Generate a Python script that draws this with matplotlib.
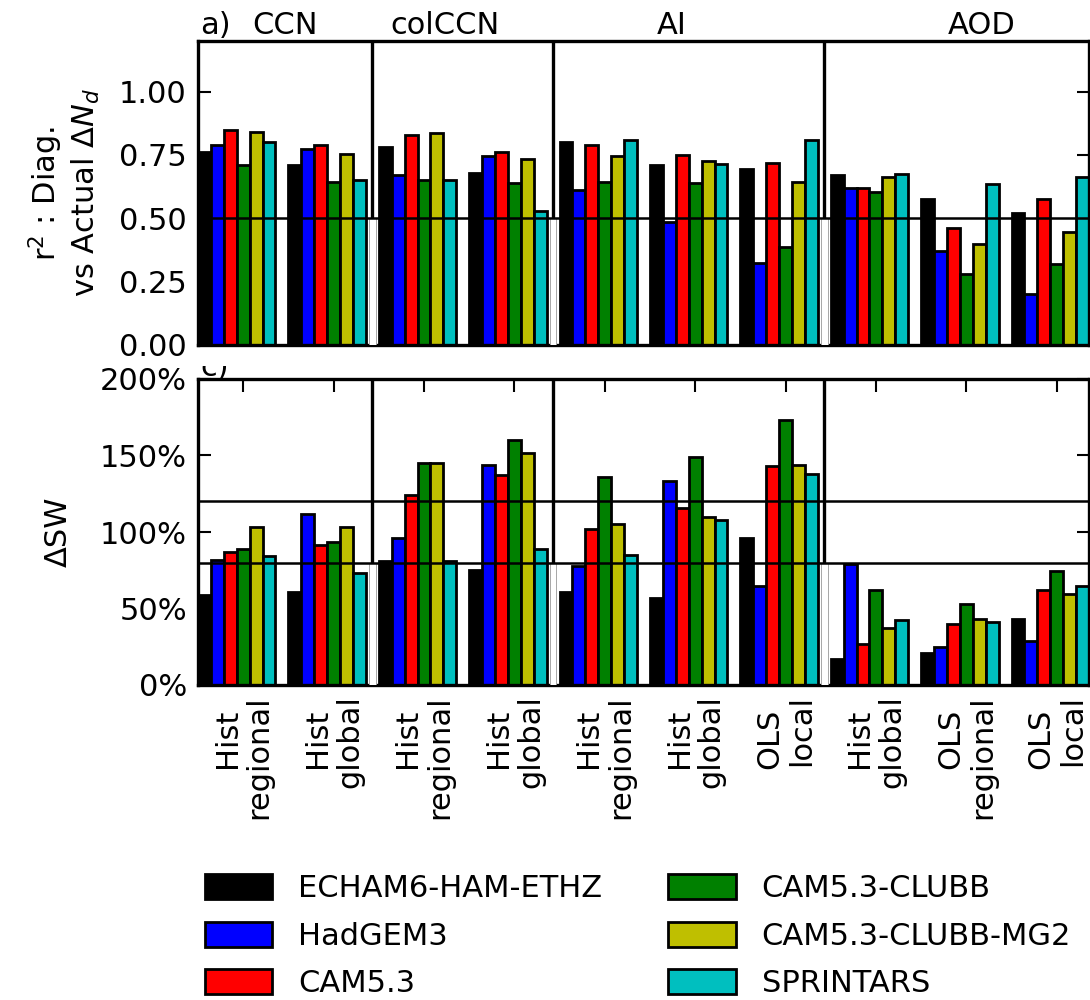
import matplotlib
matplotlib.use('Agg')
from matplotlib import pyplot as plt
from matplotlib import transforms
from matplotlib.patches import Patch
import numpy as np

models = ['ECHAM6-HAM-ETHZ', 'HadGEM3', 'CAM5.3',
          'CAM5.3-CLUBB', 'CAM5.3-CLUBB-MG2', 'SPRINTARS']
colors = ['k', 'b', 'r', 'g', 'y', 'c']

sections = ['CCN', 'colCCN', 'AI', 'AOD']
groups_per_section = [2, 2, 3, 3]
group_method = ['Hist', 'Hist', 'Hist', 'Hist', 'Hist', 'Hist', 'OLS',
                'Hist', 'OLS', 'OLS']
group_scale = ['regional', 'global', 'regional', 'global', 'regional',
               'global', 'local', 'global', 'regional', 'local']

# r^2 of diagnosed vs actual change in Nd, one value per group
r2_echam = [0.76, 0.71, 0.78, 0.68, 0.80, 0.71, 0.695, 0.67, 0.575, 0.52]
r2_hadgem = [0.79, 0.775, 0.67, 0.745, 0.61, 0.485, 0.325, 0.62, 0.37, 0.20]
r2_cam = [0.85, 0.79, 0.83, 0.76, 0.79, 0.75, 0.72, 0.62, 0.46, 0.575]
r2_clubb = [0.71, 0.645, 0.65, 0.64, 0.645, 0.64, 0.385, 0.605, 0.28, 0.32]
r2_mg2 = [0.84, 0.755, 0.835, 0.735, 0.745, 0.725, 0.645, 0.665, 0.40, 0.445]
r2_sprintars = [0.80, 0.65, 0.65, 0.53, 0.81, 0.715, 0.81, 0.675, 0.635, 0.665]

# diagnosed SW forcing as a fraction of the actual one
dsw_echam = [0.59, 0.61, 0.81, 0.75, 0.61, 0.57, 0.96, 0.17, 0.21, 0.43]
dsw_hadgem = [0.815, 1.12, 0.96, 1.44, 0.78, 1.335, 0.65, 0.79, 0.25, 0.29]
dsw_cam = [0.87, 0.915, 1.24, 1.375, 1.02, 1.155, 1.43, 0.27, 0.40, 0.62]
dsw_clubb = [0.89, 0.935, 1.45, 1.60, 1.36, 1.49, 1.73, 0.62, 0.53, 0.745]
dsw_mg2 = [1.03, 1.03, 1.45, 1.515, 1.055, 1.095, 1.44, 0.37, 0.43, 0.595]
dsw_sprintars = [0.84, 0.735, 0.81, 0.89, 0.85, 1.08, 1.38, 0.425, 0.41, 0.65]

r2_threshold = 0.5
dsw_band = [0.8, 1.2]

r2_all = [r2_echam, r2_hadgem, r2_cam, r2_clubb, r2_mg2, r2_sprintars]
dsw_all = [dsw_echam, dsw_hadgem, dsw_cam, dsw_clubb, dsw_mg2, dsw_sprintars]

FS = 22
n_groups = len(group_method)
slot = 7  # six models plus one empty slot per group
base = np.arange(n_groups) * slot
ticks = base + 3
# section separators sit in the empty slot of each section's last group
last_group = np.cumsum(groups_per_section)[:-1] - 1
dividers = base[last_group] + 6

fig = plt.figure(figsize=(10.9, 10), dpi=100)
W, H = 1090.0, 1000.0
ax1 = fig.add_axes([198 / W, 1 - 345 / H, 891 / W, 304 / H])
ax2 = fig.add_axes([198 / W, 1 - 685 / H, 891 / W, 306 / H])

for ax, data in [(ax1, r2_all), (ax2, dsw_all)]:
    for j, vals in enumerate(data):
        ax.bar(base + j, vals, width=1.0, color=colors[j], edgecolor='k',
               linewidth=2.0, zorder=2)
    for d in dividers:
        ax.axvline(d, color='k', lw=2.4, zorder=3)
    ax.set_xlim(-0.5, base[-1] + 5.5)
    for s in ax.spines.values():
        s.set_linewidth(2.4)

# panel a: r^2
ax1.axhline(r2_threshold, color='k', lw=1.8, zorder=5)
ax1.bar(dividers, [r2_threshold] * len(dividers), width=0.5, color='w',
        edgecolor='0.6', linewidth=0.6, zorder=4)
ax1.set_ylim(0, 1.2)
ax1.set_yticks([0, 0.25, 0.5, 0.75, 1.0])
ax1.set_yticklabels(['0.00', '0.25', '0.50', '0.75', '1.00'])
ax1.set_xticks([])
ax1.tick_params(axis='y', direction='in', left=True, right=True, length=9,
                width=1.5, labelsize=FS, pad=8)
ax1.set_ylabel('r$^2$ : Diag.\nvs Actual $\\Delta N_d$', fontsize=FS)
ax1.yaxis.set_label_coords(-0.108, 0.5)

blend1 = transforms.blended_transform_factory(ax1.transData, ax1.transAxes)
ax1.text(-0.35, 1.023, 'a)', fontsize=FS, ha='left', va='baseline',
         transform=blend1)
for name, xpos in zip(sections, [6.2, 18.6, 36.2, 60.2]):
    ax1.text(xpos, 1.023, name, fontsize=FS, ha='center', va='baseline',
             transform=blend1)

# panel c: SW forcing ratio
for lev in dsw_band:
    ax2.axhline(lev, color='k', lw=1.8, zorder=5)
ax2.bar(dividers, [dsw_band[0]] * len(dividers), width=0.5, color='w',
        edgecolor='0.6', linewidth=0.6, zorder=4)
ax2.set_ylim(0, 2.0)
ax2.set_yticks([0, 0.5, 1.0, 1.5, 2.0])
ax2.set_yticklabels(['0%', '50%', '100%', '150%', '200%'])
ax2.set_xticks(ticks)
ax2.set_xticklabels([])
ax2.tick_params(axis='both', direction='in', left=True, right=True, top=True,
                bottom=True, length=9, width=1.5, labelsize=FS)
ax2.tick_params(axis='y', pad=8)
ax2.set_ylabel('\u0394SW', fontsize=FS)
ax2.yaxis.set_label_coords(-0.141, 0.5)

# two-line group labels below panel c
blend2 = transforms.blended_transform_factory(ax2.transData, ax2.transAxes)
for xt, meth, scale in zip(ticks, group_method, group_scale):
    ax2.text(xt - 1.24, -24 / 306, meth, fontsize=FS, rotation=90,
             ha='center', va='top', transform=blend2)
    ax2.text(xt + 1.24, -10 / 306, scale, fontsize=FS, rotation=90,
             ha='center', va='top', transform=blend2)

clab = fig.text(200 / W, 1 - 376 / H, 'c)', fontsize=FS, va='baseline')
clab.set_clip_box(transforms.TransformedBbox(
    transforms.Bbox([[0, 1 - 379 / H], [1, 1 - 366 / H]]), fig.transFigure))

handles = [Patch(facecolor=c, edgecolor='k', linewidth=2.0) for c in colors]
fig.legend(handles, models, ncol=2, loc='upper left',
           bbox_to_anchor=(205 / W, 1 - 874 / H), frameon=False, fontsize=FS,
           handlelength=2.2, handleheight=0.9, handletextpad=0.85,
           columnspacing=2.16, labelspacing=0.6, borderpad=0,
           borderaxespad=0)

fig.savefig('out.png', dpi=100)
